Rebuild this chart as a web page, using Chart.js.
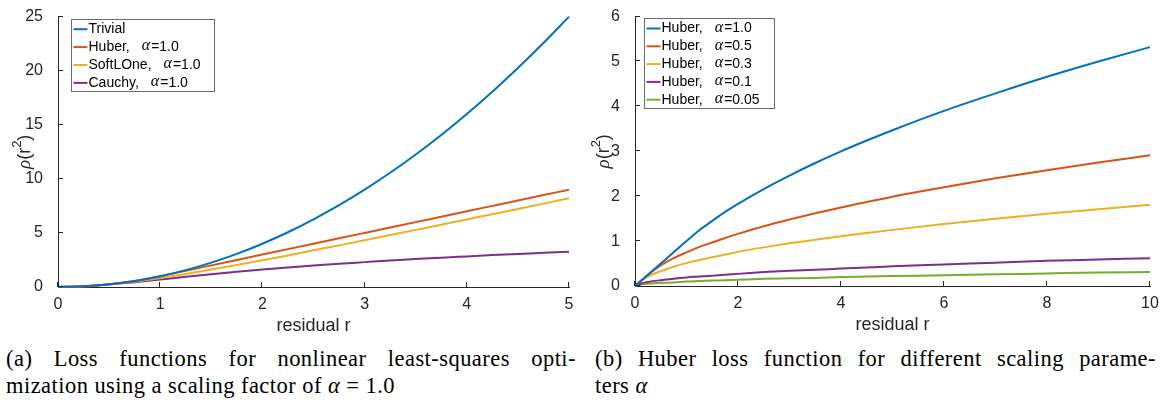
<!DOCTYPE html>
<html lang="en">
<head>
<meta charset="UTF-8">
<title>Loss functions</title>
<script src="https://cdn.jsdelivr.net/npm/chart.js"></script>
<style>
    html, body { margin: 0; padding: 0; background: #fff; }
    body { width: 1164px; height: 405px; position: relative; overflow: hidden; }
    canvas { position: absolute; top: 0; }
    #chartA { left: 0; }
    #chartB { left: 580px; }
    .cap { position: absolute; top: 346px; font-family: "Liberation Serif", serif; font-size: 22.5px; letter-spacing: 0.45px; line-height: 26.6px; color: #000; }
    .cap .first { text-align: justify; text-align-last: justify; }
    #capA { left: 6px; width: 570px; }
    #capB { left: 595px; width: 561px; }
</style>
</head>
<body>
<canvas id="chartA" width="580" height="340"></canvas>
<canvas id="chartB" width="584" height="340"></canvas>
<div class="cap" id="capA">
    <div class="first">(a) Loss functions for nonlinear least-squares opti-</div>
    <div>mization using a scaling factor of <i>α</i> = 1.0</div>
</div>
<div class="cap" id="capB">
    <div class="first">(b) Huber loss function for different scaling parame-</div>
    <div>ters <i>α</i></div>
</div>
<script>
// (a) loss functions, alpha = 1.0
const residA = [0, 0.25, 0.5, 0.75, 1, 1.25, 1.5, 1.75, 2, 2.25, 2.5, 2.75, 3, 3.25, 3.5, 3.75, 4, 4.25, 4.5, 4.75, 5];
const trivial = [0, 0.06, 0.25, 0.56, 1, 1.56, 2.25, 3.06, 4, 5.06, 6.25, 7.56, 9, 10.56, 12.25, 14.06, 16, 18.06, 20.25, 22.56, 25];
const huberA = [0, 0.06, 0.25, 0.56, 1, 1.5, 2, 2.5, 3, 3.5, 4, 4.5, 5, 5.5, 6, 6.5, 7, 7.5, 8, 8.5, 9];
const softLOne = [0, 0.06, 0.24, 0.5, 0.83, 1.2, 1.61, 2.03, 2.47, 2.92, 3.39, 3.85, 4.32, 4.8, 5.28, 5.76, 6.25, 6.73, 7.22, 7.71, 8.2];
const cauchy = [0, 0.06, 0.22, 0.45, 0.69, 0.94, 1.18, 1.4, 1.61, 1.8, 1.98, 2.15, 2.3, 2.45, 2.58, 2.71, 2.83, 2.95, 3.06, 3.16, 3.26];
const namesA = ["Trivial", "Huber,", "SoftLOne,", "Cauchy,"];
const alphasA = [null, "1.0", "1.0", "1.0"];
const ticksAX = [0, 1, 2, 3, 4, 5];
const ticksAY = [0, 5, 10, 15, 20, 25];

// (b) huber for different alpha
const residB = [0, 0.1, 0.25, 0.5, 0.75, 1, 1.25, 1.5, 1.75, 2, 2.5, 3, 3.5, 4, 4.5, 5, 6, 7, 8, 9, 10];
const huber10 = [0, 0.1, 0.25, 0.5, 0.75, 1, 1.24, 1.45, 1.65, 1.83, 2.16, 2.46, 2.74, 3, 3.24, 3.47, 3.9, 4.29, 4.66, 5, 5.32];
const huber05 = [0, 0.1, 0.25, 0.46, 0.62, 0.75, 0.87, 0.97, 1.07, 1.16, 1.33, 1.48, 1.62, 1.75, 1.87, 1.99, 2.2, 2.4, 2.58, 2.75, 2.91];
const huber03 = [0, 0.1, 0.21, 0.33, 0.43, 0.51, 0.58, 0.64, 0.7, 0.76, 0.86, 0.95, 1.03, 1.11, 1.18, 1.25, 1.38, 1.5, 1.61, 1.71, 1.81];
const huber01 = [0, 0.05, 0.09, 0.13, 0.16, 0.19, 0.21, 0.23, 0.25, 0.27, 0.31, 0.34, 0.36, 0.39, 0.41, 0.44, 0.48, 0.52, 0.56, 0.59, 0.62];
const huber005 = [0, 0.03, 0.05, 0.07, 0.08, 0.1, 0.11, 0.12, 0.13, 0.14, 0.16, 0.17, 0.18, 0.2, 0.21, 0.22, 0.24, 0.26, 0.28, 0.3, 0.31];
const namesB = ["Huber,", "Huber,", "Huber,", "Huber,", "Huber,"];
const alphasB = ["1.0", "0.5", "0.3", "0.1", "0.05"];
const ticksBX = [0, 2, 4, 6, 8, 10];
const ticksBY = [0, 1, 2, 3, 4, 5, 6];

const colors = ["#0072BD", "#D95319", "#EDB120", "#7E2F8E", "#77AC30"];
const axisColor = "#262626";
const sans = "'Liberation Sans', Arial, sans-serif";
const serif = "'Liberation Serif', serif";

// inward ticks, legend box and axis titles
const decor = {
    id: "decor",
    afterDatasetsDraw(chart, args, o) {
        const ctx = chart.ctx;
        const a = chart.chartArea;
        const xs = chart.scales.x, ys = chart.scales.y;
        ctx.save();
        ctx.strokeStyle = axisColor;
        ctx.lineWidth = 1;
        ctx.beginPath();
        xs.ticks.forEach(t => {
            const px = Math.round(xs.getPixelForValue(t.value)) - 0.5;
            ctx.moveTo(px, a.bottom);
            ctx.lineTo(px, a.bottom - 5);
        });
        ys.ticks.forEach(t => {
            const py = Math.round(ys.getPixelForValue(t.value)) - 0.5;
            ctx.moveTo(a.left, py);
            ctx.lineTo(a.left + 5, py);
        });
        ctx.stroke();

        // x title
        ctx.fillStyle = axisColor;
        ctx.font = "18px " + sans;
        ctx.textAlign = "center";
        ctx.textBaseline = "middle";
        ctx.fillText("residual r", (a.left + a.right) / 2, o.xTitleY);

        // y title: rho(r^2), rotated
        ctx.save();
        ctx.translate(o.yTitleX, (a.top + a.bottom) / 2);
        ctx.rotate(-Math.PI / 2);
        ctx.textAlign = "left";
        ctx.textBaseline = "alphabetic";
        const parts = [
            { t: "ρ", f: "italic 19px " + serif, dy: 0 },
            { t: "(r", f: "18px " + sans, dy: 0 },
            { t: "2", f: "13px " + sans, dy: -9 },
            { t: ")", f: "18px " + sans, dy: 0 }
        ];
        let w = 0;
        parts.forEach(p => { ctx.font = p.f; p.w = ctx.measureText(p.t).width; w += p.w; });
        let cx = -w / 2;
        parts.forEach(p => { ctx.font = p.f; ctx.fillText(p.t, cx, p.dy); cx += p.w; });
        ctx.restore();

        // legend
        const bx = Math.round(a.left + o.legX) + 0.5;
        const by = Math.round(a.top + o.legY) + 0.5;
        ctx.fillStyle = "#fff";
        ctx.fillRect(bx, by, o.legW, o.legH);
        ctx.strokeStyle = "#6a6a6a";
        ctx.lineWidth = 1;
        ctx.strokeRect(bx, by, o.legW, o.legH);
        chart.data.datasets.forEach((ds, i) => {
            const ry = by + o.rowFirst + i * o.rowStep;
            ctx.strokeStyle = ds.borderColor;
            ctx.lineWidth = 2;
            ctx.beginPath();
            ctx.moveTo(bx + 2, ry);
            ctx.lineTo(bx + 16, ry);
            ctx.stroke();
            ctx.fillStyle = "#000";
            ctx.textBaseline = "middle";
            ctx.textAlign = "left";
            ctx.font = "14px " + sans;
            let tx = bx + 17;
            ctx.fillText(o.names[i], tx, ry);
            if (o.alphas[i]) {
                tx += ctx.measureText(o.names[i]).width + 12;
                ctx.font = "italic 16px " + serif;
                ctx.fillText("α", tx, ry - 1);
                tx += ctx.measureText("α").width + 1;
                ctx.font = "14px " + sans;
                ctx.fillText("=" + o.alphas[i], tx, ry);
            }
        });
        ctx.restore();
    }
};

function buildChart(canvasId, xs, seriesList, o) {
    const datasets = seriesList.map((ys, i) => ({
        label: o.names[i],
        data: xs.map((x, j) => ({ x: x, y: ys[j] })),
        borderColor: colors[i],
        borderWidth: 2,
        pointRadius: 0,
        fill: false,
        cubicInterpolationMode: "monotone",
        clip: 6
    }));
    const tickFont = { family: sans, size: 16 };
    return new Chart(document.getElementById(canvasId), {
        type: "line",
        data: { datasets: datasets },
        options: {
            responsive: false,
            animation: false,
            events: [],
            layout: { padding: { left: 0, right: o.padRight, top: o.padTop, bottom: 0 } },
            plugins: { legend: { display: false }, tooltip: { enabled: false }, decor: o },
            scales: {
                x: {
                    type: "linear",
                    min: o.xTicks[0],
                    max: o.xTicks[o.xTicks.length - 1],
                    afterBuildTicks: s => { s.ticks = o.xTicks.map(v => ({ value: v })); },
                    afterFit: s => { s.height = o.xHeight; },
                    grid: { display: false },
                    border: { color: axisColor, width: 1 },
                    ticks: { color: axisColor, font: tickFont, padding: 0, maxRotation: 0, autoSkip: false }
                },
                y: {
                    type: "linear",
                    min: o.yTicks[0],
                    max: o.yTicks[o.yTicks.length - 1],
                    afterBuildTicks: s => { s.ticks = o.yTicks.map(v => ({ value: v })); },
                    afterFit: s => { s.width = o.yWidth; },
                    grid: { display: false },
                    border: { color: axisColor, width: 1 },
                    ticks: { color: axisColor, font: tickFont, padding: 7, autoSkip: false }
                }
            }
        },
        plugins: [decor]
    });
}

buildChart("chartA", residA, [trivial, huberA, softLOne, cauchy], {
    names: namesA, alphas: alphasA, xTicks: ticksAX, yTicks: ticksAY,
    yWidth: 58, xHeight: 53, padRight: 11, padTop: 14,
    xTitleY: 326, yTitleX: 30,
    legX: 13, legY: 2, legW: 143, legH: 72, rowFirst: 9.7, rowStep: 17.9
});

buildChart("chartB", residB, [huber10, huber05, huber03, huber01, huber005], {
    names: namesB, alphas: alphasB, xTicks: ticksBX, yTicks: ticksBY,
    yWidth: 55, xHeight: 54, padRight: 14, padTop: 13,
    xTitleY: 325, yTitleX: 29,
    legX: 9, legY: 1, legW: 130, legH: 90, rowFirst: 10, rowStep: 17.8
});
</script>
</body>
</html>
